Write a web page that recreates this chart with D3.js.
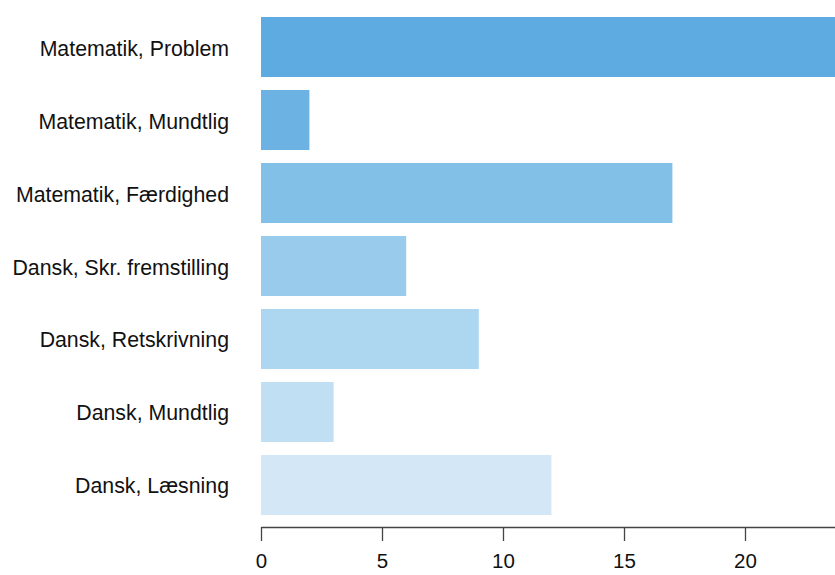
<!DOCTYPE html>
<html>
<head>
<meta charset="utf-8">
<script src="https://cdn.jsdelivr.net/npm/d3@7"></script>
<style>
  html, body { margin: 0; padding: 0; background: #fff; }
  svg { display: block; }
  text { font-family: "Liberation Sans", Arial, sans-serif; fill: #111; }
</style>
</head>
<body>
<svg id="chart" width="835" height="575"></svg>
<script>
const categories = [
  "Matematik, Problem",
  "Matematik, Mundtlig",
  "Matematik, Færdighed",
  "Dansk, Skr. fremstilling",
  "Dansk, Retskrivning",
  "Dansk, Mundtlig",
  "Dansk, Læsning"
];
const values = [25, 2, 17, 6, 9, 3, 12];
const barColors = ["#5dabe1", "#6cb3e4", "#82c0e8", "#98cbec", "#add6f0", "#c0dff3", "#d3e7f6"];
const xTicks = [0, 5, 10, 15, 20];

const svg = d3.select("#chart");

const x = d3.scaleLinear().domain([0, 25]).range([261, 866]);
const y = d3.scaleBand().domain(categories).range([17, 515]).paddingInner(0.178).paddingOuter(0);

svg.append("g").selectAll("rect")
  .data(categories)
  .join("rect")
  .attr("x", x(0))
  .attr("y", d => y(d))
  .attr("width", (d, i) => x(values[i]) - x(0))
  .attr("height", y.bandwidth())
  .attr("fill", (d, i) => barColors[i]);

svg.append("g").selectAll("text")
  .data(categories)
  .join("text")
  .attr("x", 229)
  .attr("y", d => y(d) + y.bandwidth() / 2 + 1.5)
  .attr("text-anchor", "end")
  .attr("dominant-baseline", "central")
  .style("font-size", "21.3px")
  .text(d => d);

const axis = d3.axisBottom(x).tickValues(xTicks).tickSizeOuter(0).tickSizeInner(14).tickPadding(12);
const gx = svg.append("g").attr("transform", "translate(0,527)").call(axis);
gx.select(".domain").attr("stroke", "#444").attr("stroke-width", 1.3);
gx.selectAll(".tick line").attr("stroke", "#444").attr("stroke-width", 1.3);
gx.selectAll(".tick text").style("font-size", "20.5px").attr("fill", "#111")
  .style("font-family", "'Liberation Sans', Arial, sans-serif");
</script>
</body>
</html>
